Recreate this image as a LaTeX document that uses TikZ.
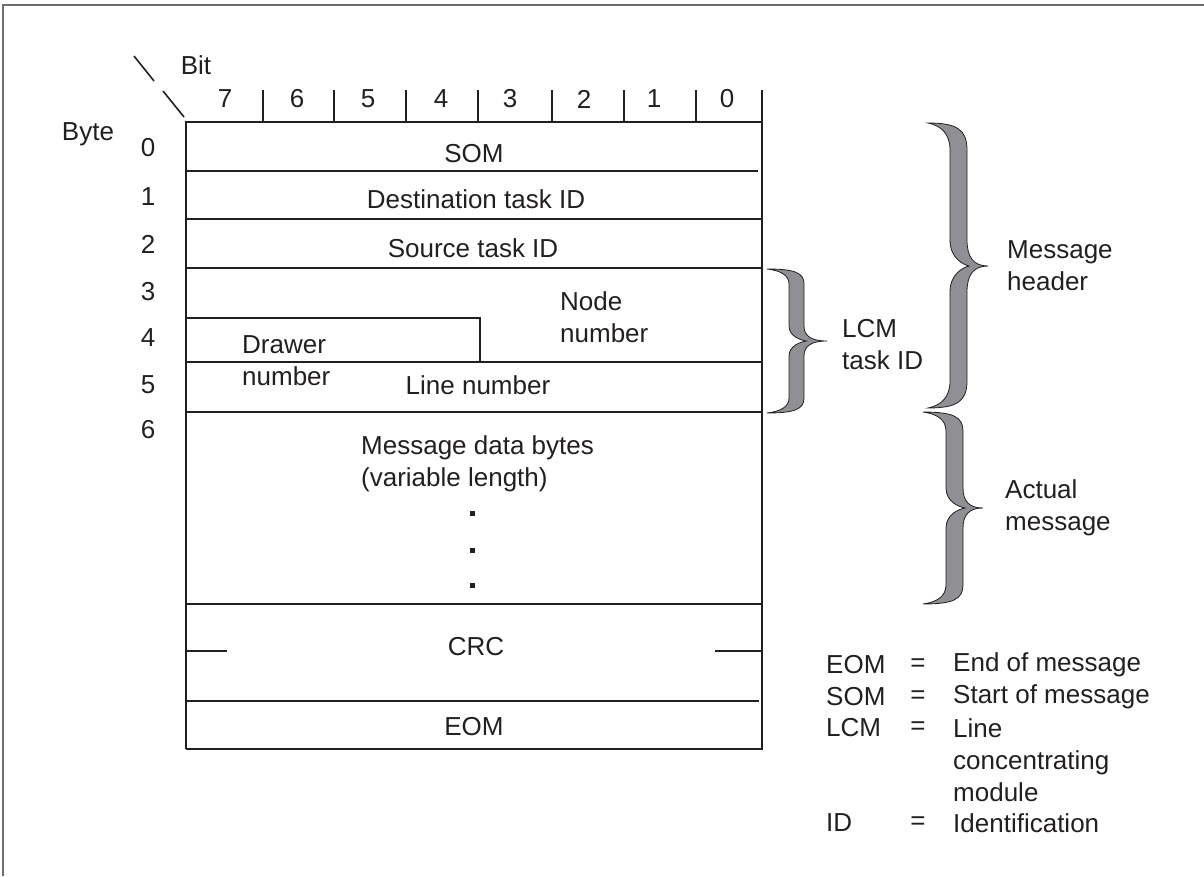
\documentclass[tikz,border=0pt]{standalone}
\usepackage{fontspec}
\setmainfont{Liberation Sans}
\definecolor{ink}{HTML}{231F20}
\definecolor{framegray}{HTML}{6D6E71}
\definecolor{bracegray}{HTML}{8E9094}
% x0, xL, xR, xt, yt, ym, yb, r, r2
\newcommand{\mybrace}[9]{%
  \filldraw[fill=bracegray, draw=ink, line width=0.8pt]
  (#1,#5) .. controls ({#1+0.75*(#3-#1)},#5) and (#3,{#5+0.25*#8}) .. (#3,{#5+#8})
  -- (#3,{#6-#9})
  .. controls (#3,{#6-0.35*#9}) and ({#3+0.3*(#4-#3)},#6) .. (#4,#6)
  .. controls ({#3+0.3*(#4-#3)},#6) and (#3,{#6+0.35*#9}) .. (#3,{#6+#9})
  -- (#3,{#7-#8})
  .. controls (#3,{#7-0.25*#8}) and ({#1+0.75*(#3-#1)},#7) .. (#1,#7)
  .. controls ({#1+0.6*(#2-#1)},{#7-0.1*#8}) and (#2,{#7-0.4*#8}) .. (#2,{#7-#8})
  -- (#2,{#6+#9})
  .. controls (#2,{#6+0.3*#9}) and ({#3+0.1*(#4-#3)-0.3*(#3+0.1*(#4-#3)-#2)},{#6+0.05*#9}) .. ({#3+0.1*(#4-#3)},#6)
  .. controls ({#3+0.1*(#4-#3)-0.3*(#3+0.1*(#4-#3)-#2)},{#6-0.05*#9}) and (#2,{#6-0.3*#9}) .. (#2,{#6-#9})
  -- (#2,{#5+#8})
  .. controls (#2,{#5+0.4*#8}) and ({#1+0.6*(#2-#1)},{#5+0.1*#8}) .. (#1,#5)
  -- cycle;}
\begin{document}
\begin{tikzpicture}[x=1pt,y=-1pt,
  ln/.style={line width=1.8pt, draw=ink},
  lbl/.style={inner sep=0pt, text=ink, font=\fontsize{26}{32}\selectfont},
  lblw/.style={lbl, anchor=west, align=left}]
\useasboundingbox (0,0) rectangle (1204,876);
% outer frame (top and left edges)
\draw[framegray, line width=2pt] (3,876) -- (3,5) -- (1204,5);

% header
\node[lbl] (bit) at (196,65) {Bit};
\node[lbl] (byte) at (88,134) {Byte};
\draw[ln, line width=1.6pt] (134,56) -- (154,81);
\draw[ln, line width=1.6pt] (163,91) -- (184,117);
\foreach \d/\x in {7/225,6/297,5/368,4/441,3/510,2/584,1/654,0/727}
  \node[lbl] (bit\d) at (\x,99) {\d};
\foreach \x in {263,334,406,478,552,624,696}
  \draw[ln] (\x,90) -- (\x,122);
\foreach \r/\y in {0/148,1/197,2/244,3/292,4/338,5/385,6/430}
  \node[lbl] (byte\r) at (148,\y) {\r};

% table outline
\draw[ln] (186,749) -- (186,122) -- (762,122);
\draw[ln] (762,90) -- (762,749) -- (186,749);
% rows
\draw[ln] (186,171) -- (758,171);
\draw[ln] (186,219) -- (762,219);
\draw[ln] (186,268) -- (762,268);
\draw[ln] (186,318) -- (480,318) -- (480,362);
\draw[ln] (186,362) -- (762,362);
\draw[ln] (186,412) -- (762,412);
\draw[ln] (186,604) -- (762,604);
\draw[ln] (186,651) -- (227,651);
\draw[ln] (715,651) -- (762,651);
\draw[ln] (185,701) -- (759,701);

% field labels
\node[lbl] (som) at (474,154) {SOM};
\node[lbl] (dest) at (476,199) {Destination task ID};
\node[lbl] (src) at (473,248) {Source task ID};
\node[lblw] (node) at (560,317) {Node\\number};
\node[lblw] (drawer) at (242,361) {Drawer\\number};
\node[lbl] (line) at (478,385) {Line number};
\node[lblw] (data) at (361,464) {Message data bytes\\(variable length)};
\foreach \y [count=\i] in {513,550,585}
  \fill[ink] (470,{\y-2.5}) rectangle (475,{\y+2.5});
\node[lbl] (crc) at (476,647) {CRC};
\node[lbl] (eom) at (474,727) {EOM};

% braces
\mybrace{928}{950}{967}{988}{123}{266}{408}{27}{26}
\mybrace{923}{946}{963}{983}{412}{508}{604}{19}{20}
\mybrace{767}{789}{804}{827}{269}{341}{413}{15}{15}
\node[lblw] (hdr) at (1007,266) {Message\\header};
\node[lblw] (lcm) at (842,345) {LCM\\task ID};
\node[lblw] (act) at (1005,508) {Actual\\message};

% legend
\foreach \a/\b/\y [count=\i] in {EOM/End of message/665,SOM/Start of message/697,ID/Identification/823}{
  \node[lblw] (ab\i) at (826,\y) {\a};
  \node[lbl] (eq\i) at (918,\y) {=};
  \node[lblw] (df\i) at (953,\y) {\b};
}
\node[lblw] (ablcm) at (826,728) {LCM};
\node[lbl] (eqlcm) at (918,728) {=};
\node[lblw] (dflcm) at (953,760) {Line\\concentrating\\module};
\end{tikzpicture}
\end{document}
